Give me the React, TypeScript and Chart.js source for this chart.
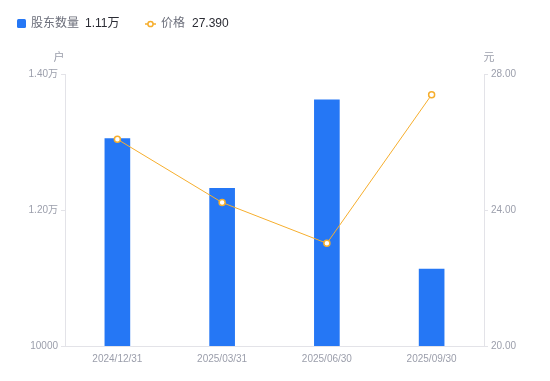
import React, { useEffect, useRef } from "react";
import { Chart, registerables } from "chart.js";

Chart.register(...registerables);

const categories = ["2024/12/31", "2025/03/31", "2025/06/30", "2025/09/30"];
const holders = [13050, 12320, 13620, 11130];
const prices = [26.08, 24.22, 23.02, 27.39];
const leftTicks = [10000, 12000, 14000];
const rightTicks = [20, 24, 28];
const legendHolders = "1.11万";
const legendPrice = "27.390";

const FONT = "'Liberation Sans', Arial, 'Noto Sans CJK SC', sans-serif";
const BLUE = "#2577f5";
const ORANGE = "#f6ae2d";
const TICK = "#9b9eab";
const AXIS = "#e3e3e8";

const fmtLeft = (v: number) => (v >= 10000 && v !== 10000 ? (v / 10000).toFixed(2) + "万" : String(v));

const overlay = {
  id: "overlay",
  afterDraw(chart: any) {
    const ctx = chart.ctx;
    ctx.save();
    ctx.fillStyle = BLUE;
    ctx.beginPath();
    (ctx as any).roundRect ? ctx.roundRect(17, 19, 9, 9, 1.5) : ctx.rect(17, 19, 9, 9);
    ctx.fill();
    ctx.font = "12px " + FONT;
    ctx.textBaseline = "middle";
    ctx.textAlign = "left";
    ctx.fillStyle = "#6b6e7a";
    ctx.fillText("股东数量", 31, 24);
    ctx.fillStyle = "#2a2b33";
    ctx.fillText(legendHolders, 85, 24);
    ctx.strokeStyle = ORANGE;
    ctx.lineWidth = 1.5;
    ctx.beginPath();
    ctx.moveTo(145, 24);
    ctx.lineTo(156, 24);
    ctx.stroke();
    ctx.beginPath();
    ctx.arc(150.5, 24, 2.6, 0, Math.PI * 2);
    ctx.fillStyle = "#fff";
    ctx.fill();
    ctx.stroke();
    ctx.fillStyle = "#6b6e7a";
    ctx.fillText("价格", 161, 24);
    ctx.fillStyle = "#2a2b33";
    ctx.fillText(legendPrice, 192, 24);
    ctx.font = "11px " + FONT;
    ctx.fillStyle = TICK;
    ctx.textAlign = "center";
    ctx.fillText("户", chart.chartArea.left - 6, 58);
    ctx.fillText("元", chart.chartArea.right + 5, 58);
    ctx.restore();
  },
};

export default function App() {
  const ref = useRef<HTMLCanvasElement>(null);
  useEffect(() => {
    if (!ref.current) return;
    const chart = new Chart(ref.current, {
      data: {
        labels: categories,
        datasets: [
          {
            type: "line",
            label: "价格",
            data: prices,
            yAxisID: "y1",
            borderColor: ORANGE,
            borderWidth: 1,
            pointRadius: 3,
            pointBorderWidth: 1.5,
            pointBackgroundColor: "#fff",
            pointBorderColor: ORANGE,
            tension: 0,
            order: 0,
          },
          {
            type: "bar",
            label: "股东数量",
            data: holders,
            yAxisID: "y",
            backgroundColor: BLUE,
            barThickness: 25,
            order: 1,
          },
        ],
      } as any,
      options: {
        animation: false,
        responsive: false,
        maintainAspectRatio: false,
        layout: { padding: { top: 74, left: 0, right: 0, bottom: 0 } },
        plugins: { legend: { display: false }, tooltip: { enabled: false } },
        scales: {
          x: {
            grid: { display: false, drawTicks: false },
            border: { display: true, color: AXIS },
            ticks: { color: TICK, font: { size: 10, family: FONT }, padding: 7, maxRotation: 0 },
            afterFit: (s: any) => { s.height = 35; },
          },
          y: {
            position: "left",
            min: 10000,
            max: 14000,
            afterBuildTicks: (s: any) => { s.ticks = leftTicks.map((v) => ({ value: v })); },
            grid: { drawOnChartArea: false, drawTicks: true, tickLength: 4, color: AXIS },
            border: { display: true, color: AXIS },
            ticks: { color: TICK, font: { size: 10, family: FONT }, padding: 3, callback: (v: any) => fmtLeft(Number(v)) },
            afterFit: (s: any) => { s.width = 65; },
          },
          y1: {
            position: "right",
            min: 20,
            max: 28,
            afterBuildTicks: (s: any) => { s.ticks = rightTicks.map((v) => ({ value: v })); },
            grid: { drawOnChartArea: false, drawTicks: true, tickLength: 4, color: AXIS },
            border: { display: true, color: AXIS },
            ticks: { color: TICK, font: { size: 10, family: FONT }, padding: 3, callback: (v: any) => Number(v).toFixed(2) },
            afterFit: (s: any) => { s.width = 66; },
          },
        },
      } as any,
      plugins: [overlay],
    });
    return () => chart.destroy();
  }, []);
  return (
    <div style={{ position: "fixed", left: 0, top: 0, width: 550, height: 381, background: "#fff" }}>
      <canvas ref={ref} width={550} height={381} style={{ width: 550, height: 381 }} />
    </div>
  );
}
